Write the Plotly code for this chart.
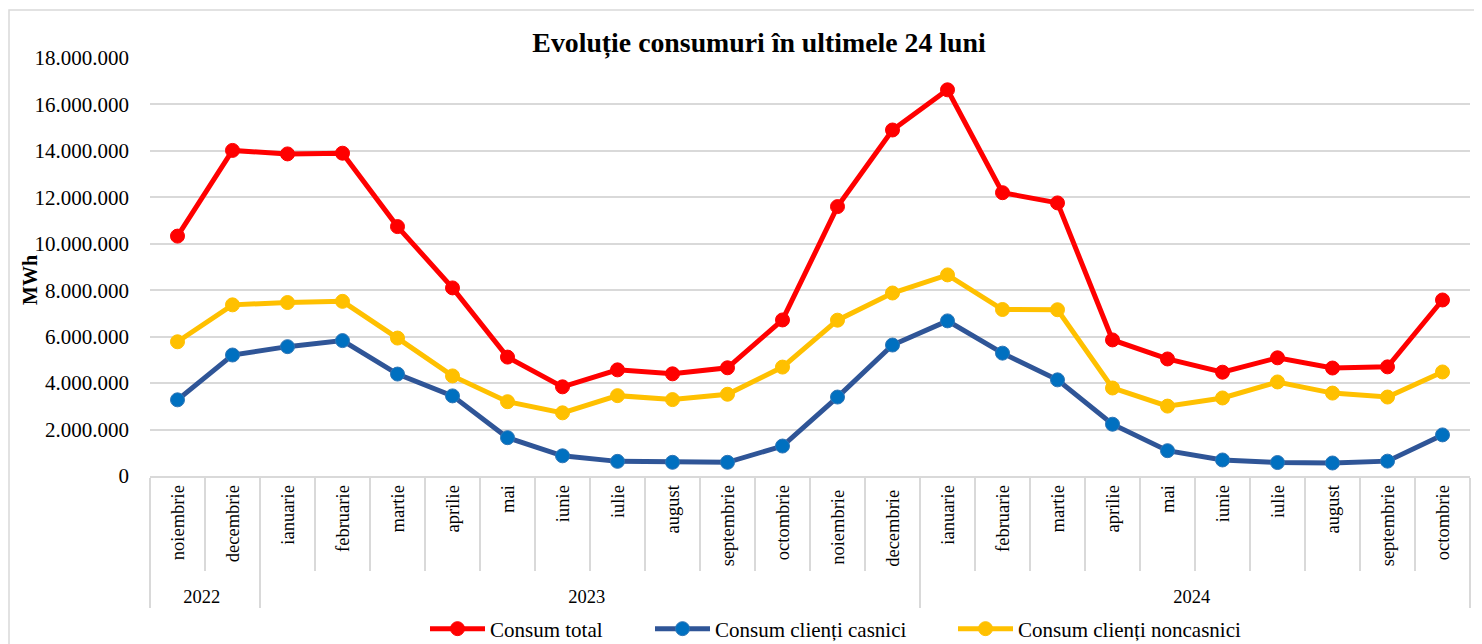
import plotly.graph_objects as go

years = ["2022"] * 2 + ["2023"] * 12 + ["2024"] * 10
# trailing space on the 2023 Nov/Dec labels keeps them distinct categories so
# Plotly's multicategory axis keeps chronological order
months = ["noiembrie", "decembrie", "ianuarie", "februarie", "martie", "aprilie",
          "mai", "iunie", "iulie", "august", "septembrie", "octombrie",
          "noiembrie ", "decembrie ", "ianuarie", "februarie", "martie", "aprilie",
          "mai", "iunie", "iulie", "august", "septembrie", "octombrie"]

consum_total = [10330000, 14020000, 13870000, 13900000, 10740000, 8100000,
                5120000, 3840000, 4570000, 4400000, 4660000, 6720000,
                11600000, 14900000, 16630000, 12200000, 11760000, 5860000,
                5040000, 4470000, 5090000, 4650000, 4700000, 7580000]
consum_casnici = [3280000, 5210000, 5570000, 5830000, 4390000, 3450000,
                  1650000, 870000, 630000, 590000, 590000, 1290000,
                  3400000, 5640000, 6680000, 5290000, 4140000, 2230000,
                  1090000, 690000, 580000, 560000, 640000, 1770000]
consum_noncasnici = [5780000, 7370000, 7470000, 7520000, 5940000, 4310000,
                     3200000, 2720000, 3460000, 3290000, 3520000, 4690000,
                     6710000, 7880000, 8660000, 7170000, 7160000, 3790000,
                     3010000, 3360000, 4050000, 3570000, 3400000, 4480000]

FONT = "Liberation Serif"
x = [years, months]

# page is rendered with an 8px body margin, so figure coords = page coords - 8
W, H = 1474, 636
L, R, T, B = 142, 12, 50, 168
pw, ph = W - L - R, H - T - B

fig = go.Figure()
series = [
    ("Consum total", consum_total, "#FF0000", "#FF0000", "#FF0000", "legend", 417),
    ("Consum clienți casnici", consum_casnici, "#2F5597", "#0070C0", "#2E75B6", "legend2", 642),
    ("Consum clienți noncasnici", consum_noncasnici, "#FFC000", "#FFC000", "#FFC000", "legend3", 945),
]
legends = {}
for name, vals, lc, mc, mlc, lg, lx in series:
    fig.add_trace(go.Scatter(
        x=x, y=vals, name=name, mode="lines+markers", legend=lg,
        line=dict(color=lc, width=5),
        marker=dict(color=mc, size=14, line=dict(color=mlc, width=1)),
    ))
    legends[lg] = dict(orientation="h", x=lx / W, xref="container", xanchor="left",
                       y=1 - 621 / H, yref="container", yanchor="middle",
                       font=dict(family=FONT, size=21, color="black"),
                       itemwidth=55, bgcolor="rgba(0,0,0,0)")

fig.update_layout(
    width=W, height=H,
    margin=dict(l=L, r=R, t=T, b=B, autoexpand=False),
    paper_bgcolor="white", plot_bgcolor="white",
    separators=",.",
    font=dict(family=FONT, color="black", size=18),
    title=dict(text="<b>Evoluție consumuri în ultimele 24 luni</b>",
               x=751 / W, xref="container", xanchor="center",
               y=1 - 34 / H, yref="container", yanchor="middle",
               font=dict(family=FONT, size=27.8, color="black")),
    showlegend=True,
    **legends,
    xaxis=dict(
        type="multicategory",
        range=[-0.5, 23.5], autorange=False,
        automargin=False,
        tickangle=-90,
        tickfont=dict(family=FONT, size=18.5, color="black"),
        showgrid=False,
        showline=True, linecolor="#D9D9D9", linewidth=1.5,
        ticks="outside", tickson="boundaries", ticklen=93,
        tickcolor="#D9D9D9", tickwidth=1.5,
        showdividers=True, dividercolor="#D9D9D9", dividerwidth=1.5,
    ),
    yaxis=dict(
        range=[0, 18000000], autorange=False, dtick=2000000, tickformat=",d",
        automargin=False,
        showgrid=True, gridcolor="#D9D9D9", gridwidth=1.5,
        zeroline=False, showline=False,
        tickfont=dict(family=FONT, size=21, color="black"),
        ticks="", ticklabelstandoff=20,
    ),
    annotations=[dict(
        text="<b>MWh</b>", textangle=-90, showarrow=False,
        xref="paper", yref="paper",
        x=(22 - L) / pw, y=(468 - 272) / ph, xanchor="center", yanchor="middle",
        font=dict(family=FONT, size=20, color="black"),
    )],
)

fig.add_shape(type="rect", xref="paper", yref="paper",
              x0=(1 - L) / pw, x1=(1469 - L) / pw,
              y0=(468 - 660) / ph, y1=(468 - 2) / ph,
              line=dict(color="#D9D9D9", width=1.5), fillcolor="rgba(0,0,0,0)",
              layer="below")

fig.write_html("out.html")
